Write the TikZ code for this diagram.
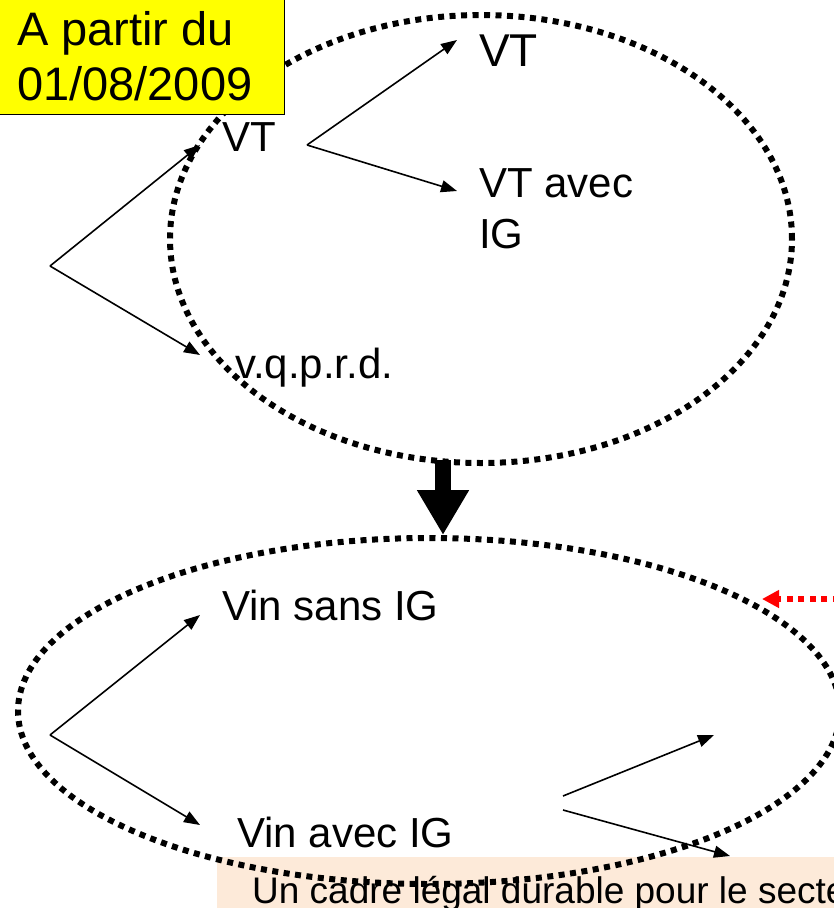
\documentclass[tikz,border=0pt]{standalone}
\usepackage{fontspec}
\setmainfont{Liberation Sans}
\usetikzlibrary{arrows.meta,shapes.geometric}
\definecolor{peach}{RGB}{253,234,217}
\definecolor{pureyellow}{RGB}{255,255,0}
\begin{document}
\begin{tikzpicture}[x=1pt,y=-1pt,
  lbl/.style={inner sep=0pt, anchor=base west, align=left, font=\fontsize{42}{51}\selectfont},
  oval/.style={ellipse, draw, line width=6pt, dash pattern=on 6pt off 5.5pt, inner sep=0pt},
  thin/.style={line width=1.6pt, -{Triangle[length=16pt,width=12pt]}},
]
\clip (0,0) rectangle (834,908);
% banner at the bottom
\node (band) [fill=peach, anchor=north west, minimum width=640pt, minimum height=60pt, inner sep=0pt] at (217,857) {};
\node (bandtxt) [lbl, font=\fontsize{37}{44}\selectfont] at (252,903) {Un cadre légal durable pour le secte};
% ellipses
\node (top) [oval, minimum width=622pt, minimum height=448pt] at (481,239) {};
\node (bot) [oval, minimum width=822pt, minimum height=346pt] at (429,711) {};
% labels
\node (vt1) [lbl, font=\fontsize{46}{52}\selectfont] at (479,66) {VT};
\node (vt0) [lbl] at (222,151) {VT};
\node (vtig) [lbl] at (479,248) {VT avec\\IG};
\node (vq) [lbl] at (235,378) {v.q.p.r.d.};
\node (vsans) [lbl] at (222,620) {Vin sans IG};
\node (vavec) [lbl] at (237,847) {Vin avec IG};
% connector ends
\coordinate (f1) at (50,266);
\coordinate (t1a) at (200,145);
\coordinate (t1b) at (200,355);
\coordinate (f2) at (307,145);
\coordinate (t2a) at (457,40);
\coordinate (t2b) at (457,191);
\coordinate (f3) at (50,735);
\coordinate (t3a) at (200,615);
\coordinate (t3b) at (200,825);
\coordinate (s4a) at (563,796);
\coordinate (t4a) at (714,735);
\coordinate (s4b) at (563,810);
\coordinate (t4b) at (730,856);
\coordinate (r0) at (850,599);
\coordinate (r1) at (762,599);
\coordinate (k0) at (443,460);
\coordinate (k1) at (443,535);
% connectors
\draw[thin] (f1) -- (t1a);
\draw[thin] (f1) -- (t1b);
\draw[thin] (f2) -- (t2a);
\draw[thin] (f2) -- (t2b);
\draw[thin] (f3) -- (t3a);
\draw[thin] (f3) -- (t3b);
\draw[thin] (s4a) -- (t4a);
\draw[thin] (s4b) -- (t4b);
\draw[red, line width=6pt, dash pattern=on 6pt off 5.5pt, -{Triangle[length=17pt,width=17pt]}] (r0) -- (r1);
\draw[line width=16pt, -{Triangle[length=45pt,width=49pt]}] (k0) -- (k1);
% date box
\node (datebox) [draw, fill=pureyellow, line width=1.5pt, anchor=south east, minimum width=300pt, minimum height=130pt, inner sep=0pt] at (285,115) {};
\node (date) [lbl, font=\fontsize{47}{55}\selectfont] at (17,100) {A partir du\\01/08/2009};
\end{tikzpicture}
\end{document}
